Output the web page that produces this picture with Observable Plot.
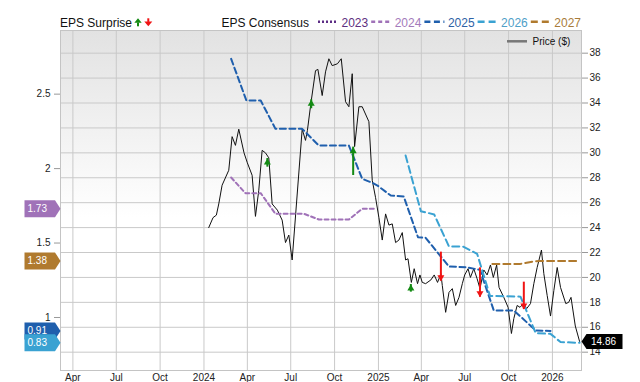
<!DOCTYPE html>
<html>
<head>
<meta charset="utf-8">
<script src="https://cdn.jsdelivr.net/npm/d3@7"></script>
<script src="https://cdn.jsdelivr.net/npm/@observablehq/plot@0.6"></script>
<style>
html,body{margin:0;padding:0;background:#fff;}
#wrap{position:relative;width:640px;height:382px;overflow:hidden;}
#chart{position:absolute;left:0;top:29px;}
#overlay{position:absolute;left:0;top:0;pointer-events:none;}
</style>
</head>
<body>
<svg width="0" height="0" style="position:absolute">
  <defs>
    <linearGradient id="plotBg" x1="0" y1="0" x2="0" y2="1">
      <stop offset="0" stop-color="#e2e2e2"/>
      <stop offset="0.55" stop-color="#ffffff"/>
    </linearGradient>
  </defs>
</svg>
<div id="wrap"><div id="chart"></div><svg id="overlay" width="640" height="50"></svg></div>
<script>
// ---------------- DATA ----------------
const xDomain = ["2023-03-06", "2026-03-03"];
const priceDomain = [12.53, 39.82];
const epsDomain = [0.644, 2.9275];
const priceTicks = [14, 16, 18, 20, 22, 24, 26, 28, 30, 32, 34, 36, 38];
const epsTicks = [1, 1.5, 2, 2.5];

const priceDates = ["2024-01-11","2024-01-20","2024-01-27","2024-02-01","2024-02-08","2024-02-22","2024-02-29","2024-03-07","2024-03-14","2024-03-25",
"2024-04-01","2024-04-11","2024-04-18","2024-04-25","2024-05-02","2024-05-09","2024-05-16","2024-05-23","2024-06-03","2024-06-13",
"2024-06-20","2024-06-27","2024-07-04","2024-07-25","2024-08-01","2024-08-05","2024-08-12","2024-08-22","2024-08-27","2024-09-05",
"2024-09-12","2024-09-19","2024-09-26","2024-10-07","2024-10-15","2024-10-24","2024-10-31","2024-11-07","2024-11-12","2024-11-21",
"2024-11-28","2024-12-12","2024-12-19","2024-12-26","2025-01-02","2025-01-09","2025-01-16","2025-01-23","2025-01-30","2025-02-06",
"2025-02-13","2025-02-20","2025-02-27","2025-03-04","2025-03-11","2025-03-17","2025-03-24","2025-03-29","2025-04-03","2025-04-10",
"2025-04-21","2025-04-28","2025-05-05","2025-05-12","2025-05-15","2025-05-22","2025-05-29","2025-06-05","2025-06-12","2025-06-19",
"2025-06-26","2025-07-01","2025-07-08","2025-07-13","2025-07-20","2025-07-27","2025-08-02","2025-08-10","2025-08-17","2025-08-24",
"2025-08-30","2025-09-06","2025-09-11","2025-09-21","2025-09-30","2025-10-07","2025-10-12","2025-10-19","2025-10-25","2025-11-01",
"2025-11-08","2025-11-16","2025-11-23","2025-11-30","2025-12-09","2025-12-14","2025-12-21","2025-12-28","2026-01-04","2026-01-11",
"2026-01-18","2026-01-29","2026-02-04","2026-02-09","2026-02-18","2026-02-27"];
const priceValues = [24.0,24.8,25.0,25.9,27.4,28.6,31.3,30.6,31.9,30.0,
29.2,28.2,24.9,27.0,30.2,30.0,29.6,25.9,25.4,24.6,
22.8,23.4,21.4,31.9,31.0,31.8,33.9,36.6,36.7,34.6,
36.5,37.55,37.0,37.15,37.55,34.1,33.7,36.35,30.5,33.7,
33.7,32.5,27.8,26.4,24.8,23.0,25.1,24.2,24.3,22.8,
23.0,23.6,21.4,21.5,19.6,20.7,19.5,20.2,19.6,19.5,
19.8,20.2,19.6,20.3,19.35,17.2,18.8,19.1,17.75,18.4,
19.5,20.2,20.7,20.0,20.7,19.9,19.1,20.6,20.2,21.0,
20.0,21.0,19.2,18.4,17.6,15.5,16.7,17.75,17.6,17.9,
17.5,17.9,19.5,20.8,22.2,20.3,18.55,16.9,18.95,20.8,
19.2,17.9,18.0,18.4,16.1,14.86];

const c2023Dates = [];
const c2023Values = [];
const c2024Dates = ["2024-02-27","2024-03-28","2024-04-29","2024-05-30","2024-07-29","2024-08-29","2024-10-31","2024-11-28","2024-12-26"];
const c2024Values = [1.94,1.835,1.835,1.696,1.696,1.658,1.658,1.73,1.73];
const c2025Dates = ["2024-02-27","2024-03-30","2024-04-29","2024-05-30","2024-07-25","2024-08-29","2024-10-31","2024-11-28","2024-12-19","2024-12-30",
"2025-01-27","2025-02-23","2025-03-25","2025-04-10","2025-05-29","2025-07-03","2025-08-02","2025-08-31","2025-10-12","2025-11-27","2025-12-28"];
const c2025Values = [2.737,2.457,2.457,2.267,2.267,2.155,2.155,1.931,1.905,1.886,
1.819,1.813,1.539,1.535,1.342,1.338,1.32,1.047,1.047,0.913,0.91];
const c2026Dates = ["2025-02-27","2025-03-31","2025-04-28","2025-05-29","2025-06-27","2025-07-27","2025-08-23","2025-10-26","2025-11-27","2025-12-28","2026-01-18","2026-02-27"];
const c2026Values = [2.088,1.714,1.692,1.477,1.477,1.428,1.145,1.14,0.895,0.89,0.835,0.83];
const c2027Dates = ["2025-08-28","2025-10-26","2025-11-20","2025-12-04","2026-02-28"];
const c2027Values = [1.36,1.36,1.375,1.38,1.38];

const seriesYears = ["2023","2024","2025","2026","2027"];
const seriesColors = ["#5c2d85","#a072b8","#1f5fad","#3aa2d2","#b07a2e"];
const seriesTextColors = ["#5e3080","#a47bbb","#2e62a6","#4fa0c8","#a97c3a"];
const seriesDashes = ["2,2","4,3","6,3.5","7,4","7,4"];

const surpriseDates = ["2024-05-13","2024-08-13","2024-11-09","2025-03-10","2025-05-12","2025-08-02","2025-11-02"];
const surpriseFrom = [28.85,33.54,28.18,18.82,22.03,20.77,19.62];
const surpriseTo = [29.55,34.26,30.46,19.43,19.70,18.41,17.43];

// ---------------- BUILD ----------------
const parse = d3.utcParse("%Y-%m-%d");
const zip = (ds, vs) => ds.map((d, i) => ({date: parse(d), value: vs[i]}));
const epsToPrice = d3.scaleLinear().domain(epsDomain).range(priceDomain);

const price = zip(priceDates, priceValues);
const seriesData = [zip(c2023Dates, c2023Values), zip(c2024Dates, c2024Values), zip(c2025Dates, c2025Values), zip(c2026Dates, c2026Values), zip(c2027Dates, c2027Values)];
const series = seriesYears.map((y, i) => ({year: y, color: seriesColors[i], text: seriesTextColors[i], dash: seriesDashes[i], data: seriesData[i]}));

const surprises = surpriseDates.map((d, i) => ({date: parse(d), from: surpriseFrom[i], to: surpriseTo[i]}));
const ups = surprises.filter(d => d.to > d.from);
const downs = surprises.filter(d => d.to < d.from);
const GREEN = "#138a13", RED = "#f01414";

const xd = xDomain.map(parse);
const quarterTicks = d3.utcMonth.every(3).range(xd[0], xd[1]);
const fmtX = d => d.getUTCMonth() === 0 ? String(d.getUTCFullYear()) : d3.utcFormat("%b")(d);

// badge shapes (custom symbols)
const leftTag = {draw(ctx) { ctx.moveTo(-36, -8.5); ctx.lineTo(-5.5, -8.5); ctx.lineTo(0, 0); ctx.lineTo(-5.5, 8.5); ctx.lineTo(-36, 8.5); ctx.closePath(); }};
const rightTag = {draw(ctx) { ctx.moveTo(0, 0); ctx.lineTo(5, -7.5); ctx.lineTo(41, -7.5); ctx.lineTo(41, 7.5); ctx.lineTo(5, 7.5); ctx.closePath(); }};

const badges = series.filter(s => s.data.length).map(s => {
  const last = s.data[s.data.length - 1];
  return {eps: last.value, label: d3.format(".2f")(last.value), color: s.color};
});
// draw order: 2024, 2027, 2025, 2026
const badgeOrder = [badges[0], badges[3], badges[1], badges[2]];
const lastPrice = price[price.length - 1];

const badgeMarks = badgeOrder.flatMap(b => [
  Plot.dot([b], {y: d => epsToPrice(d.eps), frameAnchor: "left", symbol: leftTag, fill: b.color, stroke: "none"}),
  Plot.text([b], {y: d => epsToPrice(d.eps), text: "label", frameAnchor: "left", dx: -33, textAnchor: "start", fill: "#fff", fontSize: 10})
]);

const chart = Plot.plot({
  width: 640, height: 353,
  marginTop: 1, marginBottom: 12, marginLeft: 60, marginRight: 59,
  style: {fontFamily: "'Liberation Sans', Arial, sans-serif", fontSize: "10px", background: "transparent", color: "#222", overflow: "visible"},
  x: {type: "utc", domain: xd},
  y: {domain: priceDomain},
  marks: [
    Plot.frame({fill: "url(#plotBg)", stroke: "none"}),
    Plot.gridX({ticks: quarterTicks, stroke: "#c9c9c9", strokeOpacity: 1}),
    Plot.gridY({ticks: priceTicks, stroke: "#c9c9c9", strokeOpacity: 1}),
    Plot.frame({stroke: "#c4c4c4"}),
    Plot.axisX({ticks: quarterTicks, tickFormat: fmtX, tickSize: 0, tickPadding: 3, label: null, fill: "#222"}),
    Plot.axisY({anchor: "right", ticks: priceTicks, tickSize: 6, tickPadding: 2, label: null, stroke: "#999", fill: "#222"}),
    Plot.axisY({anchor: "left", ticks: epsTicks.map(e => epsToPrice(e)), tickFormat: p => String(Math.round(epsToPrice.invert(p) * 100) / 100), tickSize: 6, tickPadding: 4, label: null, stroke: "#999", fill: "#222"}),
    Plot.line(price, {x: "date", y: "value", stroke: "#111", strokeWidth: 1}),
    ...series.filter(s => s.data.length).map(s =>
      Plot.line(s.data, {x: "date", y: d => epsToPrice(d.value), stroke: s.color, strokeWidth: 2, strokeDasharray: s.dash})
    ),
    Plot.ruleX(ups, {x: "date", y1: "from", y2: "to", stroke: GREEN, strokeWidth: 2}),
    Plot.dot(ups, {x: "date", y: "to", symbol: "triangle", r: 2.6, fill: GREEN, stroke: "none", dy: 4}),
    Plot.ruleX(downs, {x: "date", y1: "from", y2: "to", stroke: RED, strokeWidth: 2}),
    Plot.dot(downs, {x: "date", y: "to", symbol: "triangle", rotate: 180, r: 2.6, fill: RED, stroke: "none", dy: -4}),
    ...badgeMarks,
    Plot.dot([lastPrice], {y: "value", frameAnchor: "right", symbol: rightTag, fill: "#000", stroke: "none"}),
    Plot.text([lastPrice], {y: "value", text: d => d3.format(".2f")(d.value), frameAnchor: "right", dx: 9.5, textAnchor: "start", fill: "#fff", fontSize: 10})
  ]
});
document.getElementById("chart").append(chart);

// ---------------- HEADER LEGEND ----------------
const ov = d3.select("#overlay").attr("font-family", "'Liberation Sans', Arial, sans-serif");
ov.append("text").attr("x", 60).attr("y", 27).attr("font-size", 12).attr("fill", "#111").text("EPS Surprise");
ov.append("path").attr("d", "M134.3,22.8L138,18.3L141.7,22.8Z").attr("fill", GREEN);
ov.append("rect").attr("x", 137).attr("y", 22.5).attr("width", 2).attr("height", 3.8).attr("fill", GREEN);
ov.append("path").attr("d", "M144.3,21.6L152.3,21.6L148.3,26.3Z").attr("fill", RED);
ov.append("rect").attr("x", 147.3).attr("y", 18.3).attr("width", 2).attr("height", 3.6).attr("fill", RED);
ov.append("text").attr("x", 221.5).attr("y", 27).attr("font-size", 12).attr("fill", "#111").text("EPS Consensus");
series.forEach((s, i) => {
  const x0 = 318 + i * 53.2;
  ov.append("line").attr("x1", x0).attr("x2", x0 + 20).attr("y1", 21.7).attr("y2", 21.7)
    .attr("stroke", s.color).attr("stroke-width", 2.5).attr("stroke-dasharray", s.dash);
  ov.append("text").attr("x", x0 + 23.5).attr("y", 27).attr("font-size", 12).attr("fill", s.text).text(s.year);
});
ov.append("line").attr("x1", 507).attr("x2", 527).attr("y1", 41.3).attr("y2", 41.3).attr("stroke", "#777").attr("stroke-width", 2.5);
ov.append("text").attr("x", 532.5).attr("y", 45).attr("font-size", 10).attr("fill", "#111").text("Price ($)");
</script>
</body>
</html>
